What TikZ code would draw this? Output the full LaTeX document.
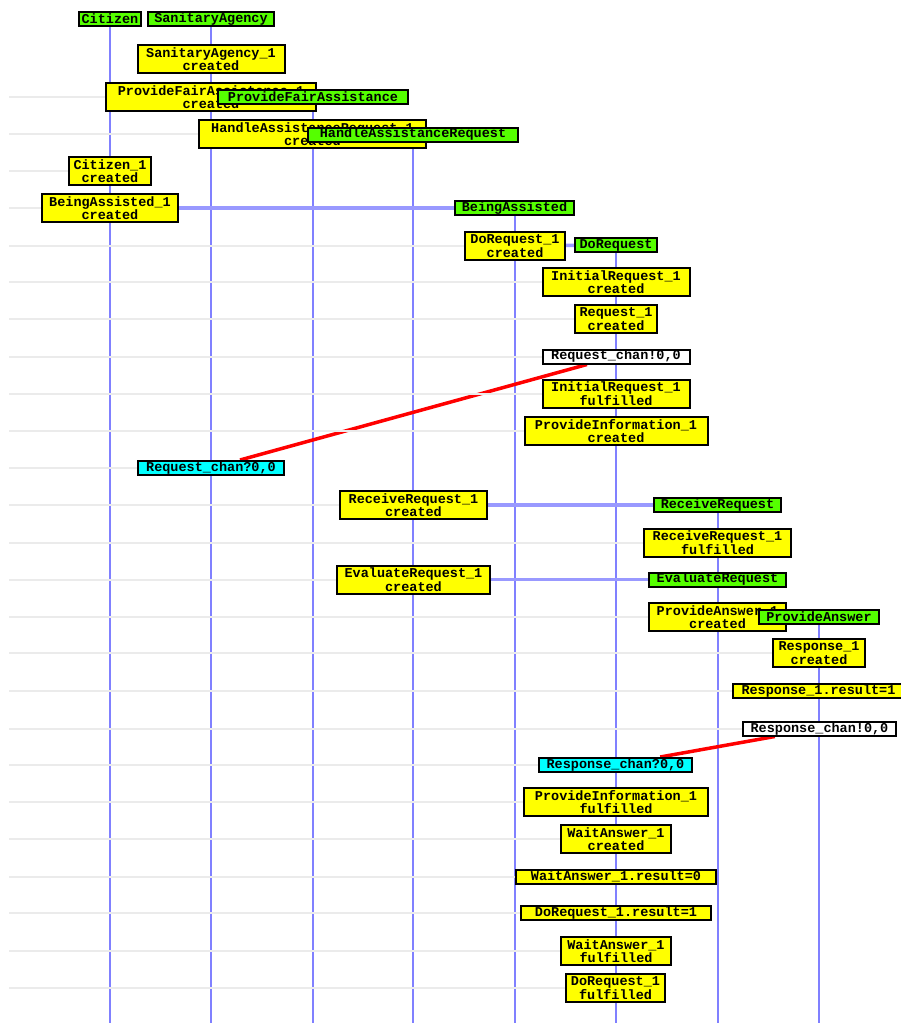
\documentclass[tikz,border=0pt]{standalone}
\usepackage{fontspec}
\newfontfamily\tracefont{Liberation Mono}[BoldFont={Liberation Mono Bold}]
\usetikzlibrary{backgrounds}
\definecolor{hdrgreen}{RGB}{85,255,0}
\definecolor{evyellow}{RGB}{255,255,0}
\definecolor{recvcyan}{RGB}{0,255,255}
\definecolor{lifeblue}{RGB}{128,128,255}
\definecolor{linkblue}{RGB}{153,153,255}
\definecolor{rowgray}{RGB}{235,235,235}

\begin{document}
\begin{tikzpicture}[x=1pt,y=-1pt,
  box/.style={draw=black,line width=2pt,inner sep=0pt,align=center,
    font=\tracefont\bfseries\fontsize{13.5}{12.5}\selectfont},
  agent/.style={box,fill=hdrgreen,minimum height=14},
  event/.style={box,fill=evyellow,minimum height=28},
  fact/.style={box,fill=evyellow,minimum height=14},
  sendmsg/.style={box,fill=white,minimum height=14},
  recvmsg/.style={box,fill=recvcyan,minimum height=14},
  life/.style={lifeblue,line width=2pt},
  link/.style={linkblue,line width=3.5pt},
  msg/.style={red,line width=3.5pt},
  rowline/.style={rowgray,line width=2pt}]

\useasboundingbox (0,0) rectangle (900,1023);
\coordinate (left) at (9,0);
\coordinate (bottom) at (0,1023);

% agents and first steps
\node[agent,minimum width=62] (citizen) at (110,19) {Citizen};
\node[agent,minimum width=126] (agency) at (211,19) {SanitaryAgency};
\node[event,minimum width=147] (sa1) at (211,59) {SanitaryAgency\_1\\created};
\node[event,minimum width=210] (pfa1) at (211,97) {ProvideFairAssistance\_1\\created};
\node[agent,minimum width=190] (pfa) at (313,97) {ProvideFairAssistance};
\node[event,minimum width=227] (har1) at (312.5,134) {HandleAssistanceRequest\_1\\created};
\node[agent,minimum width=210] (har) at (413,134.5) {HandleAssistanceRequest};
\node[event,minimum width=82] (cit1) at (110,171) {Citizen\_1\\created};
\node[event,minimum width=136] (ba1) at (110,208) {BeingAssisted\_1\\created};
\node[agent,minimum width=119] (ba) at (514.5,208) {BeingAssisted};
\node[event,minimum width=100] (dr1) at (515,246) {DoRequest\_1\\created};
\node[agent,minimum width=82] (dr) at (616,245) {DoRequest};

% request
\node[event,minimum width=147] (ir1) at (616,282) {InitialRequest\_1\\created};
\node[event,minimum width=82] (rq1) at (616,319) {Request\_1\\created};
\node[sendmsg,minimum width=147] (send1) at (616,356.5) {Request\_chan!0,0};
\node[event,minimum width=147] (ir1f) at (616,394) {InitialRequest\_1\\fulfilled};
\node[event,minimum width=183] (pi1) at (616,431) {ProvideInformation\_1\\created};
\node[recvmsg,minimum width=146] (recv1) at (211,468) {Request\_chan?0,0};
\node[event,minimum width=147] (rr1) at (413.5,505) {ReceiveRequest\_1\\created};
\node[agent,minimum width=127] (rr) at (717.5,505) {ReceiveRequest};
\node[event,minimum width=147] (rr1f) at (717.5,542.5) {ReceiveRequest\_1\\fulfilled};
\node[event,minimum width=153] (er1) at (413.5,579.5) {EvaluateRequest\_1\\created};
\node[agent,minimum width=137] (er) at (717.5,579.5) {EvaluateRequest};

% answer
\node[event,minimum width=137] (pa1) at (717.5,617) {ProvideAnswer\_1\\created};
\node[agent,minimum width=120] (pa) at (819,616.5) {ProvideAnswer};
\node[event,minimum width=92] (rs1) at (819,653) {Response\_1\\created};
\node[fact,minimum width=171] (rs1res) at (818.5,691) {Response\_1.result=1};
\node[sendmsg,minimum width=153] (send2) at (819.5,728.5) {Response\_chan!0,0};
\node[recvmsg,minimum width=153] (recv2) at (615.5,765) {Response\_chan?0,0};
\node[event,minimum width=184] (pi1f) at (616,802) {ProvideInformation\_1\\fulfilled};
\node[event,minimum width=110] (wa1) at (616,839) {WaitAnswer\_1\\created};
\node[fact,minimum width=200] (wa1res) at (616,876.5) {WaitAnswer\_1.result=0};
\node[fact,minimum width=190] (dr1res) at (616,913) {DoRequest\_1.result=1};
\node[event,minimum width=110] (wa1f) at (616,951) {WaitAnswer\_1\\fulfilled};
\node[event,minimum width=99] (dr1f) at (615.5,988) {DoRequest\_1\\fulfilled};

\begin{pgfonlayer}{background}
\foreach \a in {citizen,agency,pfa,har,ba,dr,rr,er,pa}
  \draw[life] (\a) -- (\a |- bottom);

\draw[msg] (send1) -- (recv1);
\draw[msg] (send2) -- (recv2);

\foreach \e in {pfa1,har1,cit1,ba1,dr1,ir1,rq1,send1,ir1f,pi1,recv1,rr1,rr1f,
    er1,pa1,rs1,rs1res,send2,recv2,pi1f,wa1,wa1res,dr1res,wa1f,dr1f}
  \draw[rowline] (\e -| left) -- (\e.center);

\draw[link] (ba1) -- (ba);
\draw[link] (dr1) -- (dr);
\draw[link] (rr1) -- (rr);
\draw[link] (er1) -- (er);
%\draw[link] (pa1) -- (pa);
\end{pgfonlayer}

\end{tikzpicture}
\end{document}
